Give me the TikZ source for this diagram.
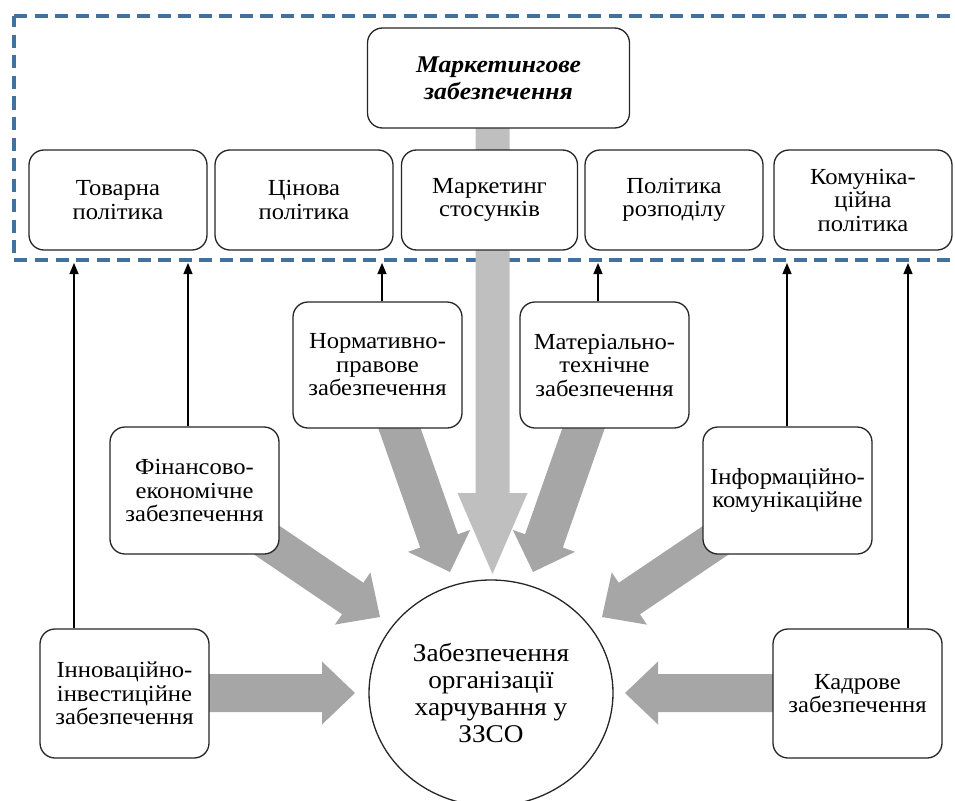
\documentclass[tikz,border=0pt]{standalone}
\usepackage{fontspec}
\setmainfont{Liberation Serif}[FakeStretch=1.07]
\usetikzlibrary{calc,arrows.meta,shapes.geometric}
\pgfdeclarelayer{bg}
\pgfsetlayers{bg,main}
\definecolor{dashblue}{HTML}{41719C}
\definecolor{darkarr}{HTML}{A6A6A6}
\definecolor{lightarr}{HTML}{BFBFBF}
\newcommand{\bxfont}{\fontsize{23}{23.5}\selectfont}
\newcommand{\crfont}{\fontsize{25.5}{27}\selectfont}
\newcommand{\hdfont}{\fontsize{24}{27}\selectfont\bfseries\itshape}
% #1 start, #2 tip, #3 half shaft, #4 half head, #5 head length, #6 fill
\newcommand{\blockarr}[6]{%
  \coordinate (bh) at ($(#2)!#5!(#1)$);
  \fill[#6] ($(#1)!#3!90:(#2)$) -- ($(bh)!#3!90:(#2)$) -- ($(bh)!#4!90:(#2)$) -- (#2)
    -- ($(bh)!#4!-90:(#2)$) -- ($(bh)!#3!-90:(#2)$) -- ($(#1)!#3!-90:(#2)$) -- cycle;}
\begin{document}
\begin{tikzpicture}[x=1pt,y=-1pt,
  rbox/.style={draw=black!85, line width=1.3pt, rounded corners=15pt, fill=white,
    align=center, inner sep=0pt, font=\bxfont},
  topbox/.style={rbox, minimum width=178pt, minimum height=100pt},
  midbox/.style={rbox, minimum width=169pt, minimum height=127pt},
  thinarr/.style={draw=black, line width=1.2pt, -{Triangle[length=11pt,width=9pt]}},
  dashbox/.style={draw=dashblue, line width=3.5pt, dash pattern=on 13pt off 7.5pt}]
\useasboundingbox (0,0) rectangle (955,800);

% marketing box
\node[rbox, minimum width=262pt, minimum height=100pt, font=\hdfont] (mkt) at (498.5,78) {Маркетингове\\забезпечення};

% top row
\node[topbox] (tov) at (118,200) {Товарна\\політика};
\node[topbox] (cin) at (304,200) {Цінова\\політика};
\node[topbox, minimum width=176pt] (mst) at (489.5,200) {Маркетинг\\стосунків};
\node[topbox] (roz) at (674,200) {Політика\\розподілу};
\node[topbox] (kom) at (863,200) {Комуніка-\\ційна\\політика};

% middle boxes
\node[midbox, minimum height=126pt] (nor) at (377.5,365) {Нормативно-\\правове\\забезпечення};
\node[midbox, minimum height=126pt] (mat) at (604.5,365) {Матеріально-\\технічне\\забезпечення};
\node[midbox] (fin) at (194.5,490.5) {Фінансово-\\економічне\\забезпечення};
\node[midbox] (inf) at (787.5,490.5) {Інформаційно-\\комунікаційне};
\node[midbox, minimum height=129pt] (inn) at (124.5,693.5) {Інноваційно-\\інвестиційне\\забезпечення};
\node[midbox, minimum height=129pt] (kad) at (857.5,693.5) {Кадрове\\забезпечення};

% centre
\node[ellipse, draw=black!85, line width=1.3pt, fill=white, minimum width=244pt, minimum height=226pt,
  inner sep=0pt, align=center, font=\crfont] (zab) at (491,693) {Забезпечення\\організації\\харчування у\\ЗЗСО};

% coordinates for block arrows
\coordinate (cS) at (492.5,100);  \coordinate (cT) at (492.5,574);
\coordinate (nS) at (386,390);    \coordinate (nT) at (450,572);
\coordinate (mS) at (597,390);    \coordinate (mT) at (533,572);
\coordinate (fS) at (184,484);    \coordinate (fT) at (380,617);
\coordinate (iS) at (799,484);    \coordinate (iT) at (602,617);
\coordinate (aS) at (150,693);    \coordinate (aT) at (355,693);
\coordinate (kS) at (830,693);    \coordinate (kT) at (625,693);

\begin{pgfonlayer}{bg}
  \draw[dashbox] (14,16) -- (975,16) -- (975,260) -- (14,260) -- cycle;
  \blockarr{cS}{cT}{17pt}{35pt}{81pt}{lightarr}
  \blockarr{nS}{nT}{20pt}{33pt}{33pt}{darkarr}
  \blockarr{mS}{mT}{20pt}{33pt}{33pt}{darkarr}
  \blockarr{fS}{fT}{19pt}{31.5pt}{33pt}{darkarr}
  \blockarr{iS}{iT}{19pt}{31.5pt}{33pt}{darkarr}
  \blockarr{aS}{aT}{19pt}{31.5pt}{33pt}{darkarr}
  \blockarr{kS}{kT}{19pt}{31.5pt}{33pt}{darkarr}
\end{pgfonlayer}

% thin arrows to the dashed frame
\coordinate (t1) at (74,263);
\coordinate (t2) at (188,263);
\coordinate (t3) at (382,263);
\coordinate (t4) at (598,263);
\coordinate (t5) at (787,263);
\coordinate (t6) at (908,263);
\draw[thinarr] (t1 |- inn.north) -- (t1);
\draw[thinarr] (t2 |- fin.north) -- (t2);
\draw[thinarr] (t3 |- nor.north) -- (t3);
\draw[thinarr] (t4 |- mat.north) -- (t4);
\draw[thinarr] (t5 |- inf.north) -- (t5);
\draw[thinarr] (t6 |- kad.north) -- (t6);
\end{tikzpicture}
\end{document}
